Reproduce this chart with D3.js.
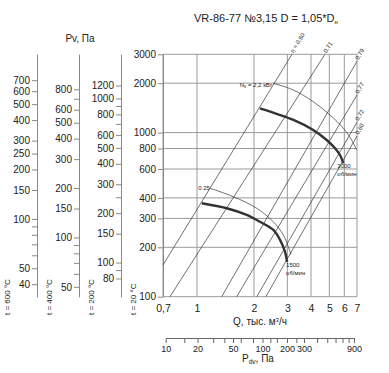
<!DOCTYPE html>
<html><head><meta charset="utf-8">
<script src="https://cdn.jsdelivr.net/npm/d3@7"></script>
<style>
body{margin:0;background:#fff}
text{font-family:"Liberation Sans",Arial,sans-serif;fill:#222}
</style>
</head><body><svg id="c" width="389" height="373"></svg>
<script>
// ---------- data ----------
const qTicks = [0.7, 1, 2, 3, 4, 5, 6, 7];
const qTickLabels = ["0,7", "1", "2", "3", "4", "5", "6", "7"];
const pGrid = [100, 200, 300, 400, 600, 800, 1000, 2000, 3000];
const temps = [600, 400, 200, 20];
const t600Labels = [700, 600, 500, 400, 300, 250, 200, 150, 100, 50, 40];
const t600Minor = [90, 80, 70, 60];
const t400Labels = [800, 600, 500, 400, 300, 200, 150, 100, 50];
const t400Minor = [700, 90, 80, 70, 60];
const t200Labels = [1200, 1000, 800, 600, 500, 400, 300, 200, 150, 100, 80];
const t200Minor = [900, 700, 250, 90];
const t20Labels = [3000, 2000, 1000, 800, 600, 400, 300, 200, 100];

// fan curves (Q, thousand m3/h ; P, Pa)
const curve3000Q = [2.15, 3.23, 4.11, 4.84, 5.36, 5.69, 5.93];
const curve3000P = [1406, 1194, 1037, 901, 802, 730, 650];
const curve1500Q = [1.059, 1.435, 1.83, 2.15, 2.53, 2.745, 2.916, 2.99];
const curve1500P = [371, 346, 315, 286, 255, 222, 188, 163];
// power curves
const power22Q = [2.53, 3.23, 4.11, 5.04, 5.93, 6.56, 6.97];
const power22P = [1997, 1818, 1543, 1281, 1062, 901, 783];
const power025Q = [1.171, 1.555, 2.067, 2.53, 2.856, 3.035, 3.137];
const power025P = [458, 407, 346, 286, 238, 202, 180];
// efficiency lines
const etaLabels = ["η = 0,60", "0,71", "0,79", "0,77", "0,72", "0,60"];
const etaQ0 = [0.7, 0.753, 1.35, 1.62, 2.07, 2.31];
const etaP0 = [156, 100, 100, 100, 100, 100];
const etaQ1 = [3.175, 4.74, 7, 7, 7, 7];
const etaP1 = [3000, 3000, 2720, 1695, 1157, 953];
// dynamic pressure scale
const pdvPos = [10, 20, 50, 100, 200, 300, 900];
const pdvLabels = [10, 20, 50, 100, 200, 300, 900];
const pdvTicks = [10, 15, 20, 30, 40, 50, 60, 80, 100, 125, 150, 200, 250, 300, 400, 500, 600, 700, 800, 900];

// ---------- chart ----------
const svg = d3.select("#c");
const x = d3.scaleLog().domain([0.7, 1, 7]).range([163, 197, 357]);
const y = d3.scaleLog().domain([100, 3000]).range([296.7, 54.3]);
const grid = "#9a9a9a";

// grid
const g = svg.append("g");
g.selectAll("line.v").data(qTicks).join("line")
  .attr("x1", d => x(d)).attr("x2", d => x(d))
  .attr("y1", y(3000)).attr("y2", y(100))
  .attr("stroke", grid).attr("stroke-width", 1);
g.selectAll("line.h").data(pGrid).join("line")
  .attr("x1", x(0.7)).attr("x2", x(7))
  .attr("y1", d => y(d)).attr("y2", d => y(d))
  .attr("stroke", grid).attr("stroke-width", 1);

// x tick labels
const xa = svg.append("g").attr("transform", `translate(0,${y(100)})`)
  .call(d3.axisBottom(x).tickValues(qTicks).tickSize(0).tickPadding(8)
    .tickFormat((d, i) => qTickLabels[i]));
xa.select(".domain").remove();
xa.selectAll("text").attr("font-size", 10.5).style("font-family", '"Liberation Sans",Arial,sans-serif').attr("fill", "#222");

svg.append("text").attr("x", 260).attr("y", 324.5).attr("text-anchor", "middle")
  .attr("font-size", 10).html("Q, тыс. м<tspan dy='-3' font-size='6'>3</tspan><tspan dy='3'>/ч</tspan>");

// left pressure axes
const axisX = [37, 79, 121, 163];
const labelSets = [t600Labels, t400Labels, t200Labels, t20Labels];
const minorSets = [t600Minor, t400Minor, t200Minor, []];
temps.forEach((t, i) => {
  const f = (273 + t) / 293;
  const s = d3.scaleLog().domain([100 / f, 3000 / f]).range([296.7, 54.3]);
  const ag = svg.append("g").attr("transform", `translate(${axisX[i]},0)`);
  ag.call(d3.axisLeft(s).tickValues(labelSets[i]).tickSize(5).tickSizeOuter(0).tickPadding(2)
    .tickFormat(d3.format("d")));
  ag.call(gg => gg.append("g").call(d3.axisLeft(s).tickValues(minorSets[i]).tickSize(5).tickSizeOuter(0).tickFormat("")));
  ag.selectAll("path.domain").attr("stroke", "#888");
  ag.selectAll(".tick line").attr("stroke", "#888");
  ag.selectAll("text").attr("font-size", 10).style("font-family", '"Liberation Sans",Arial,sans-serif').attr("fill", "#222");
  svg.append("text").attr("transform", `translate(${axisX[i] - 27.5},315) rotate(-90)`)
    .attr("font-size", 8).text(`t = ${t} °C`);
});
svg.append("text").attr("x", 80).attr("y", 42).attr("text-anchor", "middle")
  .attr("font-size", 10).text("Pv, Па");

// efficiency lines
etaLabels.forEach((lab, i) => {
  const x0 = x(etaQ0[i]), y0 = y(etaP0[i]), x1 = x(etaQ1[i]), y1 = y(etaP1[i]);
  svg.append("line").attr("x1", x0).attr("y1", y0).attr("x2", x1).attr("y2", y1)
    .attr("stroke", "#333").attr("stroke-width", 0.7);
  const ang = Math.atan2(y1 - y0, x1 - x0) * 180 / Math.PI;
  svg.append("text").attr("transform", `translate(${x1 + 1.5},${y1 - 1}) rotate(${ang})`)
    .attr("font-size", 6).text(lab);
});

// curves
const lineGen = d3.line().x(d => x(d[0])).y(d => y(d[1])).curve(d3.curveCatmullRom.alpha(0.5));
const zip = (a, b) => a.map((v, i) => [v, b[i]]);
svg.append("path").attr("d", lineGen(zip(power22Q, power22P))).attr("fill", "none").attr("stroke", "#333").attr("stroke-width", 0.7);
svg.append("path").attr("d", lineGen(zip(power025Q, power025P))).attr("fill", "none").attr("stroke", "#333").attr("stroke-width", 0.7);
svg.append("path").attr("d", lineGen(zip(curve3000Q, curve3000P))).attr("fill", "none").attr("stroke", "#333").attr("stroke-width", 2.4);
svg.append("path").attr("d", lineGen(zip(curve1500Q, curve1500P))).attr("fill", "none").attr("stroke", "#333").attr("stroke-width", 2.4);

// curve labels
svg.append("text").attr("x", x(power22Q[0]) - 1).attr("y", y(power22P[0]) + 3.5).attr("text-anchor", "end")
  .attr("font-size", 6).html("N<tspan dy='1' font-size='4.5'>v</tspan><tspan dy='-1'> = 2,2 кВт</tspan>");
svg.append("text").attr("x", x(power025Q[0])).attr("y", y(power025P[0]) + 2).attr("text-anchor", "end")
  .attr("font-size", 6).text("0.25");
const e3 = curve3000Q.length - 1, e1 = curve1500Q.length - 1;
svg.append("text").attr("x", x(curve3000Q[e3]) - 6).attr("y", y(curve3000P[e3]) + 5).attr("font-size", 6).text("3000");
svg.append("text").attr("x", x(curve3000Q[e3]) - 6).attr("y", y(curve3000P[e3]) + 13).attr("font-size", 6).text("об/мин");
svg.append("text").attr("x", x(curve1500Q[e1]) - 1).attr("y", y(curve1500P[e1]) + 5).attr("font-size", 6).text("1500");
svg.append("text").attr("x", x(curve1500Q[e1]) - 1).attr("y", y(curve1500P[e1]) + 13).attr("font-size", 6).text("об/мин");

// dynamic pressure axis
const xd = d3.scaleLog().domain(pdvPos).range([165.7, 197.5, 233, 262.5, 287, 304, 354]);
const da = svg.append("g").attr("transform", "translate(0,338)")
  .call(d3.axisBottom(xd).tickValues(pdvTicks).tickSize(5).tickSizeOuter(0)
    .tickFormat(d => pdvLabels.includes(d) ? d : ""));
da.select(".domain").attr("stroke", "#666");
da.selectAll(".tick line").attr("stroke", "#666");
da.selectAll("text").attr("font-size", 9).attr("dy", "0.71em").attr("y", 7.5)
  .style("font-family", '"Liberation Sans",Arial,sans-serif').attr("fill", "#222");
svg.append("text").attr("x", 258).attr("y", 362).attr("text-anchor", "middle")
  .attr("font-size", 10).html("P<tspan dy='1.5' font-size='6.5'>dv</tspan><tspan dy='-1.5'>, Па</tspan>");

// title
svg.append("text").attr("x", 194).attr("y", 22).attr("font-size", 11)
  .html("VR-86-77 №3,15 D = 1,05*D<tspan dy='1.5' font-size='6'>н</tspan>");
</script>
</body></html>
